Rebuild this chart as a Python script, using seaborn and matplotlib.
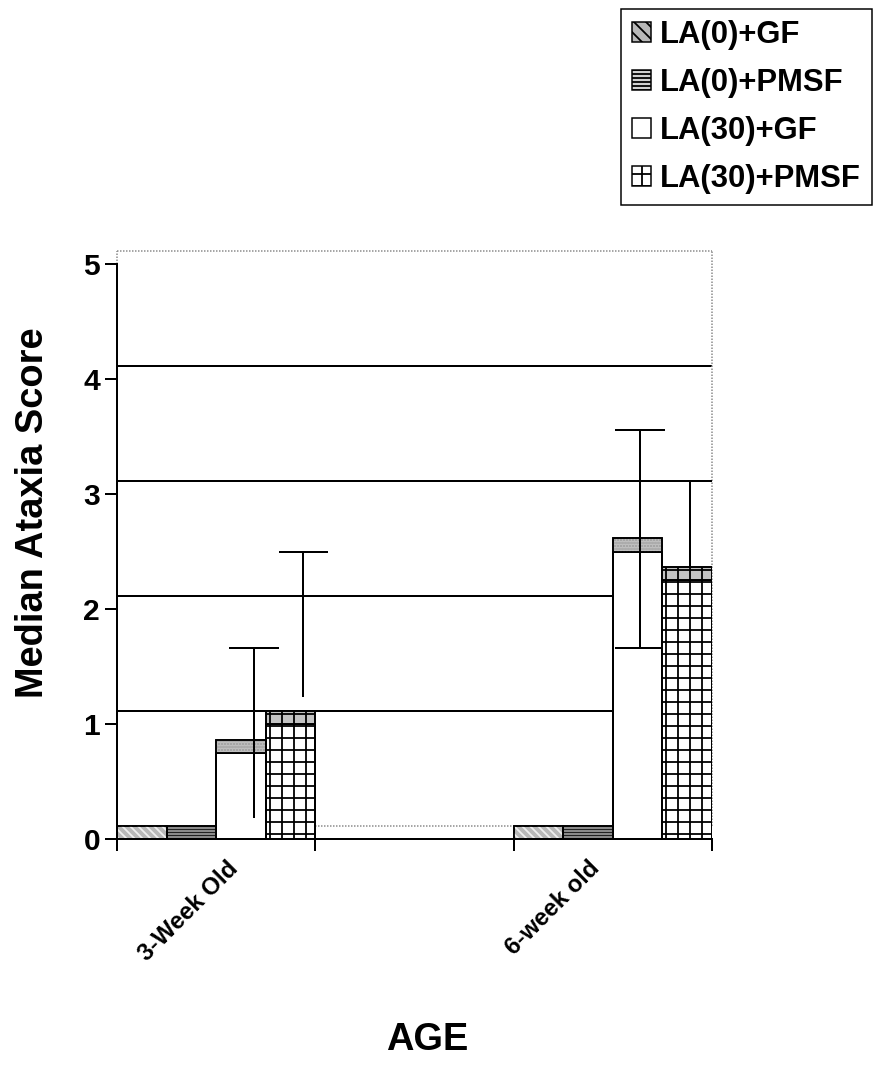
import numpy as np
import pandas as pd
import matplotlib
matplotlib.use("Agg")
import matplotlib.pyplot as plt
import matplotlib.transforms as mtransforms
from matplotlib.patches import Patch
import seaborn as sns

# ---- data -------------------------------------------------------------
ages = ["3-Week Old", "6-week old"]
groups = ["LA(0)+GF", "LA(0)+PMSF", "LA(30)+GF", "LA(30)+PMSF"]
median_3wk = [0.0, 0.0, 0.75, 1.0]
median_6wk = [0.0, 0.0, 2.5, 2.25]
# spread of the scores (lower / upper ends), nan where none is drawn
err_low_3wk = [np.nan, np.nan, 0.07, 1.12]
err_high_3wk = [np.nan, np.nan, 1.55, 2.38]
err_low_6wk = [np.nan, np.nan, 1.55, 1.40]
err_high_6wk = [np.nan, np.nan, 3.44, 3.00]
y_ticks = [0, 1, 2, 3, 4, 5]

# ---- style ------------------------------------------------------------
sns.set_theme(style="ticks")
plt.rcParams["font.family"] = ["Liberation Sans", "DejaVu Sans"]
plt.rcParams["font.weight"] = "bold"
plt.rcParams["text.color"] = "black"
plt.rcParams["axes.labelcolor"] = "black"
plt.rcParams["xtick.color"] = "black"
plt.rcParams["ytick.color"] = "black"
plt.rcParams["hatch.linewidth"] = 1.8

W, H, DPI = 874, 1082, 72
fig = plt.figure(figsize=(W / DPI, H / DPI), dpi=DPI)
fig.patch.set_facecolor("white")

depth = 0.115          # apparent depth of the 3-D floor / wall
unit_px = 115          # pixels per score unit
ax = fig.add_axes([117 / W, 243 / H, 595 / W, (5 + depth) * unit_px / H])
ax.set_facecolor("white")

spacer = " "
order = [ages[0], spacer, ages[1]]
df = pd.DataFrame({
    "age": [ages[0]] * 4 + [ages[1]] * 4,
    "group": groups * 2,
    "score": median_3wk + median_6wk,
})

sns.barplot(data=df, x="age", y="score", hue="group", order=order,
            hue_order=groups, palette=["white"] * 4, saturation=1,
            edgecolor="black", linewidth=2, width=1.0, errorbar=None,
            legend=False, ax=ax)

grey_top = "#c4c4c4"
bar_z = [2, 2, 2, 3]
front_hatch = [None, None, None, "+"]
strip_face = ["#b8b8b8", "#d0d0d0", grey_top, grey_top]
strip_hatch = ["\\\\\\", "----", "....", "+"]
strip_hcol = ["#eeeeee", "#222222", "#9a9a9a", "black"]

centers = {}
bar_groups = list(ax.containers)
for i, cont in enumerate(bar_groups):
    for j, bar in enumerate(cont):
        bar.set_zorder(bar_z[i])
        if front_hatch[i]:
            bar.set_hatch(front_hatch[i])
        x0, w, h = bar.get_x(), bar.get_width(), bar.get_height()
        centers[(i, j)] = x0 + w / 2
        # top face of the block
        ax.bar(x0, depth, bottom=h, width=w, align="edge", color=strip_face[i],
               edgecolor="black", linewidth=1.5, zorder=bar_z[i] + 0.1)
        ax.bar(x0, depth, bottom=h, width=w, align="edge", color="none",
               edgecolor=strip_hcol[i], hatch=strip_hatch[i], linewidth=0,
               zorder=bar_z[i] + 0.2)
        ax.bar(x0, depth, bottom=h, width=w, align="edge", color="none",
               edgecolor="black", linewidth=1.8, zorder=bar_z[i] + 0.3)

# back-wall gridlines and outline of the wall
ax.hlines([k + depth for k in y_ticks[1:-1]], -0.5, 2.5, color="black",
          linewidth=2, zorder=0.5)
wall = dict(color="#8a8a8a", linewidth=1.5, linestyle=(0, (1, 1)), zorder=0.6,
            clip_on=False)
ax.hlines(5 + depth, -0.5, 2.5, **wall)
ax.vlines(2.5, depth, 5 + depth, **wall)
ax.vlines(-0.5, 5, 5 + depth, **wall)
ax.hlines(depth, -0.5, 2.5, **wall)

# spread whiskers, set back into the depth of each block
err_low = [err_low_3wk, err_low_6wk]
err_high = [err_high_3wk, err_high_6wk]
x_shift = [0.065, 0.012]
low_cap = [False, True]
cap_half = 0.125
for j in range(len(ages)):
    for i in range(len(groups)):
        lo, hi = err_low[j][i], err_high[j][i]
        if np.isnan(hi):
            continue
        x = centers[(i, j)] + x_shift[j]
        ax.vlines(x, lo + depth, hi + depth, color="black", linewidth=2,
                  zorder=2.5)
        ax.hlines(hi + depth, x - cap_half, x + cap_half, color="black",
                  linewidth=2, zorder=2.5)
        if low_cap[j]:
            ax.hlines(lo + depth, x - cap_half, x + cap_half, color="black",
                      linewidth=2, zorder=2.5)

# ---- axes -------------------------------------------------------------
ax.set_xlim(-0.5, 2.5)
ax.set_ylim(0, 5 + depth)
ax.set_yticks(y_ticks)
ax.set_yticklabels([str(t) for t in y_ticks], fontsize=30, fontweight="bold",
                   color="black")
ax.tick_params(axis="y", length=12, width=2, pad=5, color="black",
               labelcolor="black", left=True)

ax.set_xticks([-0.5, 0.5, 1.5, 2.5])
ax.set_xticklabels([])
ax.tick_params(axis="x", which="major", length=12, width=2, color="black",
               bottom=True)
ax.set_xticks([0, 2], minor=True)
ax.set_xticklabels(ages, minor=True, fontsize=24, fontweight="bold",
                   rotation=45, ha="right", rotation_mode="anchor",
                   color="black")
ax.tick_params(axis="x", which="minor", length=0, pad=26, labelcolor="black")
label_dx = [18, -17]
for lab, dx in zip(ax.get_xticklabels(minor=True), label_dx):
    lab.set_va("center")
    lab.set_transform(lab.get_transform() +
                      mtransforms.ScaledTranslation(dx / DPI, 0, fig.dpi_scale_trans))
ax.set_xlabel("")
ax.set_ylabel("")

for side in ["top", "right"]:
    ax.spines[side].set_visible(False)
ax.spines["left"].set_linewidth(2)
ax.spines["left"].set_color("black")
ax.spines["left"].set_bounds(0, 5)
ax.spines["bottom"].set_linewidth(2)
ax.spines["bottom"].set_color("black")

fig.text(33 / W, 1 - 513 / H, "Median Ataxia Score", rotation=90, fontsize=38,
         fontweight="bold", ha="center", va="center", color="black")
fig.text(427 / W, 1 - 1040 / H, "AGE", fontsize=38, fontweight="bold",
         ha="center", va="center", color="black")

# ---- legend -----------------------------------------------------------
handles = [
    Patch(facecolor="#b8b8b8", edgecolor="black", hatch="\\\\", linewidth=1.5),
    Patch(facecolor="#d0d0d0", edgecolor="black", hatch="---", linewidth=1.5),
    Patch(facecolor="white", edgecolor="black", linewidth=1.5),
    Patch(facecolor="white", edgecolor="black", hatch="+", linewidth=1.5),
]
leg = fig.legend(handles, groups, loc="upper right",
                 bbox_to_anchor=(872 / W, 1 - 9 / H),
                 prop={"size": 31, "weight": "bold"}, frameon=True,
                 fancybox=False, framealpha=1, edgecolor="black",
                 borderpad=0.35, handlelength=0.62, handleheight=0.6,
                 handletextpad=0.3, labelspacing=0.58, borderaxespad=0)
leg.get_frame().set_linewidth(1.5)
for t in leg.get_texts():
    t.set_color("black")

fig.savefig("out.png", dpi=DPI, facecolor="white")
